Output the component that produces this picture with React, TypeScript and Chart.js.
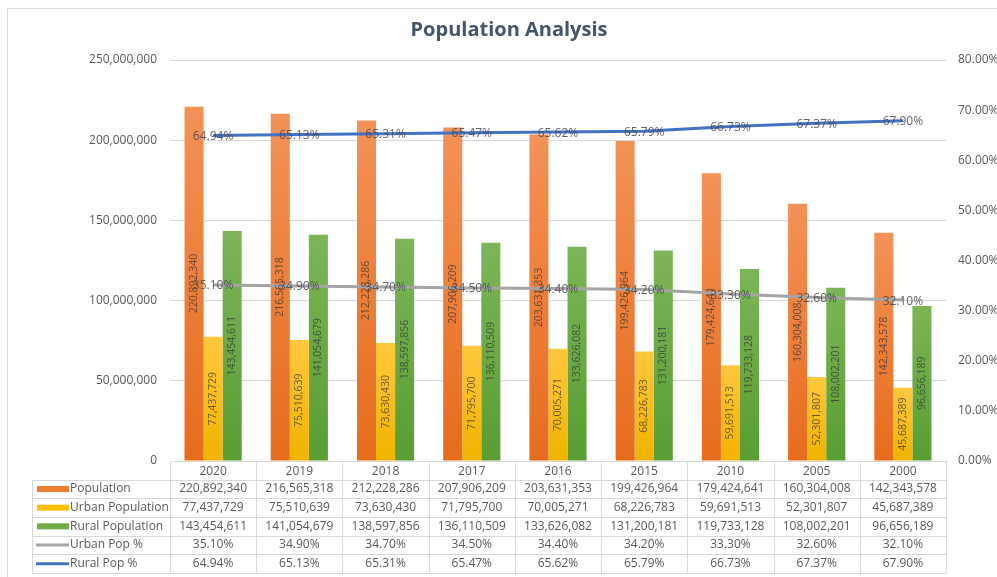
import React, { useEffect, useRef } from "react";
import { Chart, registerables } from "chart.js";

Chart.register(...registerables);

const years = ["2020", "2019", "2018", "2017", "2016", "2015", "2010", "2005", "2000"];
const population = [220892340, 216565318, 212228286, 207906209, 203631353, 199426964, 179424641, 160304008, 142343578];
const urbanPopulation = [77437729, 75510639, 73630430, 71795700, 70005271, 68226783, 59691513, 52301807, 45687389];
const ruralPopulation = [143454611, 141054679, 138597856, 136110509, 133626082, 131200181, 119733128, 108002201, 96656189];
const urbanPct = [35.1, 34.9, 34.7, 34.5, 34.4, 34.2, 33.3, 32.6, 32.1];
const ruralPct = [64.94, 65.13, 65.31, 65.47, 65.62, 65.79, 66.73, 67.37, 67.9];

const leftTicksMax = 250000000;
const leftTickStep = 50000000;
const rightTicksMax = 80;
const rightTickStep = 10;

const FONT = '"Open Sans", "Noto Sans", sans-serif';
const TEXT = "#595959";
const GRID = "#D9D9D9";

const fmtInt = (v: number) => Math.round(v).toLocaleString("en-US");
const fmtPct = (v: number) => v.toFixed(2) + "%";

type Row = { label: string; values: number[]; kind: "bar" | "line"; color: string; fmt: (v: number) => string };
const tableRows: Row[] = [
  { label: "Population", values: population, kind: "bar", color: "#ED7D31", fmt: fmtInt },
  { label: "Urban Population", values: urbanPopulation, kind: "bar", color: "#FFC000", fmt: fmtInt },
  { label: "Rural Population", values: ruralPopulation, kind: "bar", color: "#70AD47", fmt: fmtInt },
  { label: "Urban Pop %", values: urbanPct, kind: "line", color: "#A5A5A5", fmt: fmtPct },
  { label: "Rural Pop %", values: ruralPct, kind: "line", color: "#4472C4", fmt: fmtPct },
];

function barGradient(top: string, bottom: string) {
  return (c: any) => {
    const chart = c.chart;
    const y = chart.scales && chart.scales.y;
    if (!y || c.raw == null) return bottom;
    const y0 = y.getPixelForValue(c.raw);
    const y1 = y.getPixelForValue(0);
    if (!isFinite(y0) || !isFinite(y1) || y0 === y1) return bottom;
    const g = chart.ctx.createLinearGradient(0, y0, 0, y1);
    g.addColorStop(0, top);
    g.addColorStop(1, bottom);
    return g;
  };
}

const labelsPlugin = {
  id: "valueLabels",
  afterDatasetsDraw(chart: any) {
    const ctx = chart.ctx;
    chart.data.datasets.forEach((ds: any, i: number) => {
      const meta = chart.getDatasetMeta(i);
      meta.data.forEach((el: any, j: number) => {
        const p = el.getProps(["x", "y", "base"], true);
        const v = ds.data[j];
        ctx.save();
        if (ds.type === "line") {
          ctx.font = `12px ${FONT}`;
          ctx.fillStyle = "rgba(70,70,80,0.85)";
          ctx.textAlign = "center";
          ctx.textBaseline = "middle";
          ctx.fillText(fmtPct(v), p.x, p.y + 1);
        } else {
          ctx.font = `10.5px ${FONT}`;
          ctx.fillStyle = "rgba(50,50,50,0.72)";
          ctx.textAlign = "center";
          ctx.textBaseline = "middle";
          ctx.translate(p.x, (p.y + p.base) / 2);
          ctx.rotate(-Math.PI / 2);
          ctx.fillText(fmtInt(v), 0, 0);
        }
        ctx.restore();
      });
    });
  },
};

const chromePlugin = {
  id: "chrome",
  beforeDraw(chart: any) {
    const ctx = chart.ctx;
    ctx.save();
    ctx.fillStyle = "#ffffff";
    ctx.fillRect(0, 0, chart.width, chart.height);
    ctx.strokeStyle = GRID;
    ctx.lineWidth = 1;
    ctx.strokeRect(7.5, 8.5, chart.width + 20, chart.height + 20);
    ctx.restore();
  },
  afterDraw(chart: any) {
    const ctx = chart.ctx;
    const area = chart.chartArea;
    ctx.save();
    // title
    ctx.font = `bold 20px ${FONT}`;
    ctx.fillStyle = "#44546A";
    ctx.textAlign = "center";
    ctx.textBaseline = "middle";
    ctx.fillText("Population Analysis", 509, 30);

    // data table
    const n = years.length;
    const left = area.left;
    const right = area.right;
    const colW = (right - left) / n;
    const top = area.bottom;
    const rowH = (573 - top) / (tableRows.length + 1);
    const tLeft = 32;
    const px = (v: number) => Math.round(v) + 0.5;

    ctx.strokeStyle = GRID;
    ctx.lineWidth = 1;
    ctx.beginPath();
    for (let k = 1; k <= tableRows.length + 1; k++) {
      const y = px(top + k * rowH);
      ctx.moveTo(tLeft, y);
      ctx.lineTo(right, y);
    }
    ctx.moveTo(px(tLeft), top + rowH);
    ctx.lineTo(px(tLeft), top + (tableRows.length + 1) * rowH);
    for (let i = 0; i <= n; i++) {
      const x = px(left + i * colW);
      ctx.moveTo(x, top);
      ctx.lineTo(x, top + (tableRows.length + 1) * rowH);
    }
    ctx.stroke();

    ctx.font = `12px ${FONT}`;
    ctx.textBaseline = "middle";
    tableRows.forEach((row, r) => {
      const yc = top + (r + 1.5) * rowH;
      if (row.kind === "bar") {
        ctx.fillStyle = row.color;
        ctx.fillRect(37, yc - 3, 32, 6);
      } else {
        ctx.strokeStyle = row.color;
        ctx.lineWidth = 3;
        ctx.beginPath();
        ctx.moveTo(36, yc);
        ctx.lineTo(69, yc);
        ctx.stroke();
      }
      ctx.fillStyle = TEXT;
      ctx.textAlign = "left";
      ctx.fillText(row.label, 70, yc);
      ctx.textAlign = "center";
      row.values.forEach((v, i) => {
        ctx.fillText(row.fmt(v), left + (i + 0.5) * colW, yc);
      });
    });
    ctx.restore();
  },
};

export default function App() {
  const ref = useRef<HTMLCanvasElement | null>(null);

  useEffect(() => {
    if (!ref.current) return;
    const chart = new Chart(ref.current, {
      type: "bar",
      data: {
        labels: years,
        datasets: [
          { type: "bar", label: "Population", data: population, backgroundColor: barGradient("#F39257", "#E66C1C"), yAxisID: "y", order: 2 },
          { type: "bar", label: "Urban Population", data: urbanPopulation, backgroundColor: barGradient("#FFC83E", "#F0B300"), yAxisID: "y", order: 2 },
          { type: "bar", label: "Rural Population", data: ruralPopulation, backgroundColor: barGradient("#7DB558", "#599D33"), yAxisID: "y", order: 2 },
          { type: "line", label: "Urban Pop %", data: urbanPct, borderColor: "#A5A5A5", backgroundColor: "#A5A5A5", borderWidth: 3, pointRadius: 0, tension: 0, yAxisID: "y1", order: 1 },
          { type: "line", label: "Rural Pop %", data: ruralPct, borderColor: "#4472C4", backgroundColor: "#4472C4", borderWidth: 3, pointRadius: 0, tension: 0, yAxisID: "y1", order: 0 },
        ] as any,
      },
      options: {
        responsive: false,
        animation: false,
        devicePixelRatio: 1,
        layout: { padding: { top: 60, left: 0, right: 0, bottom: 0 } },
        datasets: { bar: { categoryPercentage: 0.663, barPercentage: 1 } },
        plugins: {
          legend: { display: false },
          title: { display: false },
          tooltip: { enabled: false },
        },
        scales: {
          x: {
            grid: { display: false },
            border: { display: false },
            ticks: { color: TEXT, font: { family: FONT, size: 12 }, padding: -5, maxRotation: 0 },
            afterFit: (s: any) => { s.height = 116; },
          },
          y: {
            position: "left",
            min: 0,
            max: leftTicksMax,
            ticks: { stepSize: leftTickStep, color: TEXT, font: { family: FONT, size: 12 }, padding: 13, callback: (v: any) => fmtInt(Number(v)) },
            grid: { color: GRID, drawTicks: false },
            border: { display: false },
            afterFit: (s: any) => { s.width = 170; },
          },
          y1: {
            position: "right",
            min: 0,
            max: rightTicksMax,
            ticks: { stepSize: rightTickStep, color: TEXT, font: { family: FONT, size: 12 }, padding: 12, callback: (v: any) => fmtPct(Number(v)) },
            grid: { display: false, drawTicks: false },
            border: { display: false },
            afterFit: (s: any) => { s.width = 51; },
          },
        },
      } as any,
      plugins: [chromePlugin, labelsPlugin],
    });
    return () => chart.destroy();
  }, []);

  return (
    <div style={{ position: "absolute", left: 0, top: 0, width: 997, height: 577, background: "#fff" }}>
      <canvas ref={ref} width={997} height={577} style={{ display: "block", width: 997, height: 577 }} />
    </div>
  );
}
